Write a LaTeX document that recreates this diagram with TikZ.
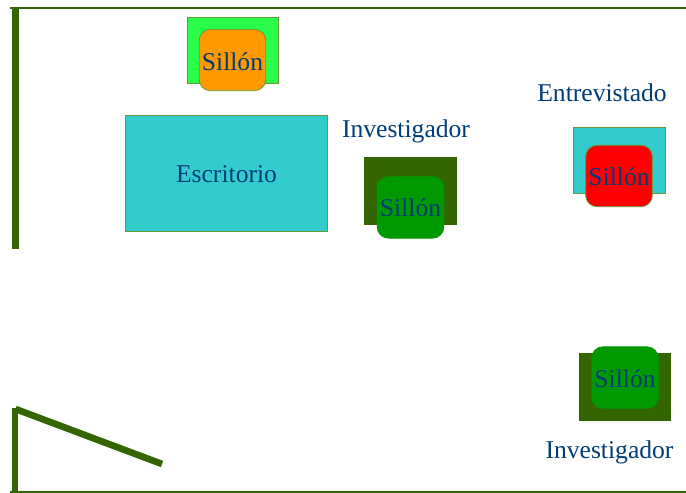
\documentclass[tikz,border=0pt]{standalone}
\usepackage{fontspec}
\setmainfont{Liberation Serif}
\definecolor{wallgreen}{HTML}{336600}
\definecolor{edgegreen}{HTML}{669933}
\definecolor{txtblue}{HTML}{003C78}
\definecolor{seatgreen}{HTML}{009900}
\definecolor{brightgreen}{HTML}{29FF4A}
\definecolor{tealfill}{HTML}{33CCCC}
\definecolor{orangefill}{HTML}{FF9900}
\newcommand{\lowered}[2]{\raisebox{-#1}[13pt][0pt]{#2}}
\tikzset{
  x=0.75pt,y=-0.75pt,
  lbl/.style={text=txtblue,font=\fontsize{19.2}{22}\selectfont,inner sep=0pt},
  back/.style={draw=edgegreen,line width=0.6pt,inner sep=0pt,minimum width=68.5pt,minimum height=50pt},
  seat/.style={lbl,draw=edgegreen,line width=0.6pt,rounded corners=8.5pt,minimum width=50pt,minimum height=46pt},
  wall/.style={wallgreen,line width=4.8pt},
  slant wall/.style={wallgreen,line width=5pt},
  thin wall/.style={wallgreen,line width=1.5pt},
}
\begin{document}
\begin{tikzpicture}
\useasboundingbox (0,0) rectangle (686,493);
% room outline
\coordinate (tl) at (10,8);
\coordinate (tr) at (686,8);
\coordinate (bl) at (10,491.5);
\coordinate (br) at (686,491.5);
\coordinate (wa) at (15.5,8);
\coordinate (wb) at (15.5,249);
\coordinate (da) at (15,491);
\coordinate (db) at (15,408);
\coordinate (dd) at (15.5,409);
\coordinate (dc) at (162,464);
\draw[thin wall] (tl) -- (tr);
\draw[thin wall] (bl) -- (br);
\draw[wall] (wa) -- (wb);
\draw[wall] (da) -- (db);
\draw[slant wall] (dd) -- (dc);
% furniture
\node[back,fill=brightgreen] (b1) at (233,50.5) {};
\node[seat,fill=orangefill] (s1) at (232.5,60) {\lowered{1.2pt}{Sillón}};
\node[lbl,draw=edgegreen,line width=0.6pt,fill=tealfill,minimum width=152pt,minimum height=87pt] (desk) at (226.5,173) {\lowered{0.75pt}{Escritorio}};
\node[back,draw=wallgreen,fill=wallgreen] (b2) at (410.5,191) {};
\node[seat,draw=seatgreen,fill=seatgreen] (s2) at (410.5,207.5) {\lowered{0pt}{Sillón}};
\node[back,fill=tealfill] (b3) at (619.5,160.5) {};
\node[seat,fill=red] (s3) at (619,176) {\lowered{0.75pt}{Sillón}};
\node[back,draw=wallgreen,fill=wallgreen] (b4) at (625,387) {};
\node[seat,draw=seatgreen,fill=seatgreen] (s4) at (625,377.5) {\lowered{1.2pt}{Sillón}};
% labels
\node[lbl] (i1) at (406,131) {Investigador};
\node[lbl] (e1) at (602,93) {Entrevistado};
\node[lbl] (i2) at (609.5,452.5) {Investigador};
\end{tikzpicture}
\end{document}
